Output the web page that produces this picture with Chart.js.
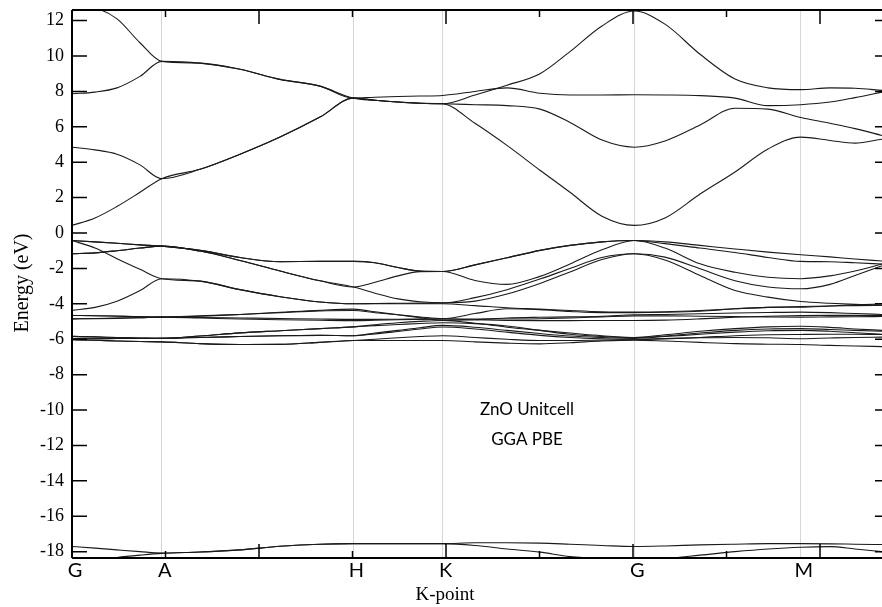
<!DOCTYPE html>
<html>
<head>
<meta charset="utf-8">
<script src="https://cdn.jsdelivr.net/npm/chart.js@4.4.1/dist/chart.umd.min.js"></script>
<style>
html,body{margin:0;padding:0;background:#fff;overflow:hidden;}
#wrap{width:882px;height:607px;}
</style>
</head>
<body>
<div id="wrap"><canvas id="c" width="882" height="607"></canvas></div>
<script>
// k-path coordinates (arbitrary k-distance units)
const kpath = [0,0.246,0.481,0.727,0.959, 1.369,1.797,2.225,2.652,3.009, 3.241,3.487,3.722,3.965, 4.310,4.652,5.005,5.326,5.668,6.014, 6.342,6.717,7.091,7.444,7.794, 8.107,8.374,8.663];
// high-symmetry points
const hsPos = [0, 0.959, 3.009, 3.965, 6.014, 7.794];
const hsLabels = ['G','A','H','K','G','M'];
const yTicks = [-18,-16,-14,-12,-10,-8,-6,-4,-2,0,2,4,6,8,10,12];
const xMajor = [2,4,6,8];
const xMinor = [1,3,5,7];

// conduction bands (eV)
const cb1 = [0.43,0.85,1.5,2.3,3.07, 3.6,4.45,5.42,6.55,7.62, 7.5,7.4,7.33,7.3, 6.2,4.95,3.55,2.3,0.95,0.43, 0.85,2.2,3.45,4.75,5.42, 5.23,5.08,5.3];
const cb2 = [4.85,4.7,4.45,3.85,3.07, 3.6,4.45,5.42,6.55,7.62, 7.5,7.4,7.33,7.3, 7.25,7.2,7.0,6.25,5.25,4.85, 5.2,6.1,7.05,7.0,6.53, 6.2,5.9,5.51];
const cb3 = [7.87,7.96,8.2,8.85,9.7, 9.6,9.25,8.68,8.3,7.62, 7.67,7.71,7.74,7.77, 8.0,8.2,7.9,7.8,7.8,7.81, 7.8,7.76,7.62,7.2,7.25, 7.4,7.65,7.96];
const cb4 = [12.75,12.68,12.1,10.75,9.7, 9.6,9.25,8.68,8.3,7.62, 7.5,7.4,7.33,7.3, 7.8,8.35,9.0,10.25,11.7,12.54, 11.8,10.1,8.7,8.2,8.1, 8.2,8.18,8.06];
// O 2p valence bands
const vb1 = [-0.42,-0.5,-0.58,-0.67,-0.74, -0.98,-1.38,-1.62,-1.6,-1.6, -1.68,-1.95,-2.15,-2.17, -1.8,-1.4,-0.98,-0.7,-0.5,-0.42, -0.5,-0.7,-0.9,-1.08,-1.23, -1.35,-1.47,-1.58];
const vb6 = [-0.42,-0.5,-0.58,-0.67,-0.74, -0.98,-1.38,-1.62,-1.6,-1.6, -1.68,-1.95,-2.15,-2.17, -1.8,-1.4,-0.98,-0.7,-0.5,-0.42, -0.6,-0.85,-1.1,-1.38,-1.6, -1.62,-1.68,-1.75];
const vb2 = [-1.17,-1.12,-1.0,-0.85,-0.74, -1.02,-1.55,-2.15,-2.7,-3.05, -2.78,-2.42,-2.18,-2.17, -2.68,-2.9,-2.45,-1.75,-0.95,-0.42, -0.85,-1.74,-2.22,-2.5,-2.58, -2.42,-2.15,-1.75];
const vb3 = [-0.42,-0.85,-1.45,-2.05,-2.58, -2.72,-3.2,-3.6,-3.9,-4.0, -4.0,-4.0,-4.0,-4.0, -4.1,-4.22,-4.3,-4.38,-4.45,-4.47, -4.45,-4.38,-4.28,-4.2,-4.15, -4.12,-4.1,-4.08];
const vb4 = [-4.37,-4.2,-3.85,-3.25,-2.58, -2.72,-3.2,-3.6,-3.9,-4.0, -3.98,-3.97,-3.96,-3.95, -3.65,-3.2,-2.6,-2.0,-1.38,-1.17, -1.36,-2.02,-2.7,-3.05,-3.15, -2.9,-2.4,-1.85];
const vb5 = [-1.17,-1.12,-1.0,-0.85,-0.74, -1.02,-1.55,-2.15,-2.7,-3.05, -3.4,-3.72,-3.88,-3.94, -3.85,-3.45,-2.85,-2.2,-1.5,-1.17, -1.52,-2.4,-3.25,-3.62,-3.87, -3.97,-4.03,-4.08];
// Zn 3d bands
const d1 = [-4.66,-4.67,-4.69,-4.72,-4.75, -4.68,-4.6,-4.5,-4.4,-4.38, -4.5,-4.62,-4.74,-4.84, -4.55,-4.28,-4.33,-4.43,-4.5,-4.5, -4.48,-4.42,-4.28,-4.2,-4.19, -4.12,-4.06,-4.0];
const d2 = [-4.85,-4.83,-4.8,-4.78,-4.75, -4.77,-4.8,-4.83,-4.86,-4.88, -4.88,-4.87,-4.86,-4.85, -4.86,-4.86,-4.84,-4.8,-4.74,-4.68, -4.68,-4.7,-4.72,-4.74,-4.75, -4.74,-4.73,-4.72];
const d3 = [-4.85,-4.84,-4.82,-4.79,-4.75, -4.8,-4.86,-4.9,-4.93,-4.95, -4.93,-4.9,-4.88,-4.86, -4.9,-4.94,-4.95,-4.95,-4.94,-4.94, -4.92,-4.85,-4.76,-4.7,-4.66, -4.65,-4.65,-4.66];
const d4 = [-4.66,-4.67,-4.7,-4.73,-4.75, -4.7,-4.6,-4.48,-4.36,-4.3, -4.45,-4.62,-4.78,-4.94, -4.9,-4.8,-4.76,-4.74,-4.7,-4.62, -4.6,-4.56,-4.52,-4.49,-4.47, -4.5,-4.55,-4.6];
const d5 = [-5.84,-5.87,-5.9,-5.93,-5.95, -5.82,-5.64,-5.52,-5.4,-5.3, -5.23,-5.17,-5.11,-5.07, -5.12,-5.25,-5.5,-5.72,-5.85,-5.9, -5.75,-5.55,-5.4,-5.3,-5.27, -5.33,-5.42,-5.5];
const d6 = [-5.84,-5.87,-5.9,-5.93,-5.95, -5.82,-5.64,-5.52,-5.4,-5.3, -5.18,-5.07,-4.99,-4.94, -5.1,-5.32,-5.5,-5.65,-5.8,-5.9, -5.82,-5.65,-5.5,-5.42,-5.4, -5.45,-5.5,-5.55];
const d7 = [-5.97,-5.97,-5.96,-5.96,-5.95, -5.9,-5.85,-5.8,-5.78,-5.8, -5.65,-5.5,-5.35,-5.22, -5.32,-5.5,-5.68,-5.82,-5.9,-5.95, -5.85,-5.72,-5.6,-5.52,-5.5, -5.55,-5.63,-5.72];
const d8 = [-5.97,-5.97,-5.96,-5.96,-5.95, -5.9,-5.85,-5.8,-5.78,-5.8, -5.7,-5.56,-5.42,-5.31, -5.42,-5.6,-5.78,-5.9,-5.97,-6.0, -5.96,-5.92,-5.9,-5.92,-5.97, -5.93,-5.9,-5.88];
const d9 = [-6.03,-6.06,-6.1,-6.13,-6.15, -6.25,-6.3,-6.29,-6.18,-6.07, -6.07,-6.07,-6.07,-6.07, -6.15,-6.22,-6.26,-6.2,-6.1,-6.05, -6.1,-6.18,-6.25,-6.28,-6.3, -6.35,-6.38,-6.42];
const d10 = [-6.03,-6.06,-6.1,-6.13,-6.15, -6.25,-6.3,-6.29,-6.18,-6.07, -6.0,-5.92,-5.85,-5.8, -5.9,-6.0,-6.07,-6.07,-6.05,-6.03, -5.98,-5.9,-5.8,-5.75,-5.73, -5.72,-5.72,-5.73];
// O 2s bands
const s1 = [-17.71,-17.8,-17.9,-18.0,-18.08, -18.02,-17.9,-17.7,-17.58,-17.55, -17.55,-17.55,-17.55,-17.55, -17.5,-17.5,-17.52,-17.58,-17.65,-17.71, -17.68,-17.62,-17.58,-17.55,-17.55, -17.56,-17.58,-17.6];
const s2 = [-18.6,-18.5,-18.33,-18.2,-18.1, -18.02,-17.9,-17.7,-17.58,-17.55, -17.55,-17.55,-17.55,-17.55, -17.65,-17.85,-18.03,-18.28,-18.38,-18.4, -18.38,-18.2,-18.0,-17.85,-17.75, -17.72,-17.85,-18.0];

const bands = [cb1,cb2,cb3,cb4,vb1,vb6,vb2,vb3,vb4,vb5,d1,d2,d3,d4,d5,d6,d7,d8,d9,d10,s1,s2];

const framePlugin = {
  id: 'frame',
  afterDraw(chart) {
    const {ctx, chartArea: a, scales: {x, y}} = chart;
    ctx.save();
    ctx.strokeStyle = '#000';
    ctx.lineWidth = 1.5;
    ctx.beginPath();
    xMajor.forEach(v => { const p = x.getPixelForValue(v);
      ctx.moveTo(p, a.bottom); ctx.lineTo(p, a.bottom - 14);
      ctx.moveTo(p, a.top); ctx.lineTo(p, a.top + 14); });
    xMinor.forEach(v => { const p = x.getPixelForValue(v);
      ctx.moveTo(p, a.bottom); ctx.lineTo(p, a.bottom - 7);
      ctx.moveTo(p, a.top); ctx.lineTo(p, a.top + 7); });
    yTicks.forEach(v => { const p = y.getPixelForValue(v);
      ctx.moveTo(a.left, p); ctx.lineTo(a.left + 15, p);
      ctx.moveTo(a.right - 7, p); ctx.lineTo(a.right, p); });
    ctx.stroke();
    ctx.lineWidth = 2;
    ctx.beginPath();
    ctx.moveTo(a.left, a.top); ctx.lineTo(a.right, a.top);
    ctx.moveTo(a.left, a.top); ctx.lineTo(a.left, a.bottom);
    ctx.moveTo(a.left, a.bottom); ctx.lineTo(a.right, a.bottom);
    ctx.stroke();
    // titles
    ctx.fillStyle = '#000';
    ctx.font = '19px "Liberation Serif"';
    ctx.textAlign = 'center';
    ctx.textBaseline = 'alphabetic';
    ctx.fillText('K-point', 445, 600);
    ctx.save();
    ctx.translate(28, 283);
    ctx.rotate(-Math.PI / 2);
    ctx.font = '20px "Liberation Serif"';
    ctx.fillText('Energy (eV)', 0, 0);
    ctx.restore();
    ctx.font = '17px Lato';
    ctx.fillText('ZnO Unitcell', 527, 415);
    ctx.fillText('GGA PBE', 527, 445);
    ctx.restore();
  }
};

new Chart(document.getElementById('c'), {
  type: 'line',
  data: {
    datasets: bands.map(b => ({
      data: kpath.map((k, i) => ({x: k, y: b[i]})),
      borderColor: '#1a1a1a',
      borderWidth: 1.1,
      pointRadius: 0,
      fill: false,
      cubicInterpolationMode: 'monotone'
    }))
  },
  options: {
    responsive: false,
    animation: false,
    events: [],
    layout: {padding: {top: 10, right: 0, left: 0, bottom: 0}},
    plugins: {legend: {display: false}, tooltip: {enabled: false}},
    scales: {
      x: {
        type: 'linear', min: 0, max: 8.663,
        afterBuildTicks: s => { s.ticks = hsPos.map(v => ({value: v})); },
        afterFit: s => { s.height = 49; s.paddingLeft = 0; s.paddingRight = 0; },
        ticks: {callback: (v, i) => hsLabels[i], autoSkip: false, maxRotation: 0,
                font: {family: 'Lato', size: 20}, color: '#000', padding: 1, labelOffset: 3},
        grid: {color: '#d6d6d6', lineWidth: 1, drawTicks: false},
        border: {display: false}
      },
      y: {
        type: 'linear', min: -18.36, max: 12.6,
        afterBuildTicks: s => { s.ticks = yTicks.map(v => ({value: v})); },
        afterFit: s => { s.width = 72; s.paddingTop = 0; s.paddingBottom = 0; },
        ticks: {autoSkip: false, font: {family: 'Liberation Serif', size: 18}, color: '#000', padding: 8},
        grid: {display: false, drawTicks: false},
        border: {display: false}
      }
    }
  },
  plugins: [framePlugin]
});
</script>
</body>
</html>
